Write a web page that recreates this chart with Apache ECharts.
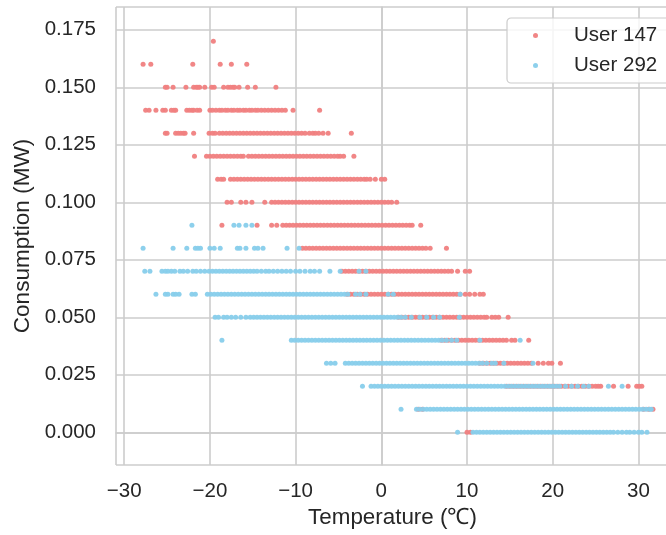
<!DOCTYPE html>
<html><head><meta charset="utf-8">
<script src="https://cdn.jsdelivr.net/npm/echarts@6/dist/echarts.min.js"></script>
<style>html,body{margin:0;padding:0;background:#fff}#c{width:666px;height:535px}</style>
</head><body><div id="c"></div><script>
// consumption levels (MW)
const levels = [0.00,0.01,0.02,0.03,0.04,0.05,0.06,0.07,0.08,0.09,0.10,0.11,0.12,0.13,0.14,0.15,0.16,0.17];
// temperatures (degC) observed at each level, User 147
const user147X = [
 [10.0,10.4],
 [4.3,4.8,30.6,31.2,31.7],
 [14.6,15.0,15.4,15.8,16.2,16.6,17.0,17.4,17.8,18.2,18.6,19.0,19.4,19.8,20.2,20.6,21.0,21.4,21.8,22.2,22.6,23.0,23.4,23.8,24.2,24.6,25.0,25.3,25.6,27.1,28.8,29.8,30.1,30.4],
 [11.5,11.9,12.3,12.7,13.1,13.5,13.9,14.3,14.7,15.1,15.5,15.9,16.3,16.7,17.1,17.5,18.3,18.9,19.5,19.9,20.9],
 [7.0,7.4,7.8,8.2,8.6,9.0,9.4,9.8,10.2,10.6,11.0,11.4,11.8,12.2,12.6,13.0,13.4,13.8,14.2,14.6,15.2,15.6,17.2],
 [2.0,2.4,2.8,3.2,3.6,4.0,4.4,4.8,5.2,5.6,6.0,6.4,6.8,7.2,7.6,8.0,8.4,8.8,9.2,9.6,10.0,10.4,10.8,11.2,11.6,12.0,12.3,12.9,13.3,13.7,14.8],
 [-4.0,-3.6,-3.2,-2.8,-2.4,-2.0,-1.6,-1.2,-0.8,-0.4,0.0,0.4,0.8,1.2,1.6,2.0,2.4,2.8,3.2,3.6,4.0,4.4,4.8,5.2,5.6,6.0,6.4,6.8,7.2,7.6,8.0,8.4,8.8,9.2,9.8,10.3,10.9,11.5,11.9],
 [-4.6,-4.2,-3.8,-3.4,-3.0,-2.6,-2.2,-1.8,-1.4,-1.0,-0.6,-0.2,0.2,0.6,1.0,1.4,1.8,2.2,2.6,3.0,3.4,3.8,4.2,4.6,5.0,5.4,5.8,6.2,6.6,7.0,7.4,7.8,8.2,8.9,9.8,10.3],
 [-9.2,-8.8,-8.4,-8.0,-7.6,-7.2,-6.8,-6.4,-6.0,-5.6,-5.2,-4.8,-4.4,-4.0,-3.6,-3.2,-2.8,-2.4,-2.0,-1.6,-1.2,-0.8,-0.4,0.0,0.4,0.8,1.2,1.6,2.0,2.4,2.8,3.2,3.6,4.0,4.4,4.8,5.2,5.7,7.6],
 [-18.6,-14.5,-12.8,-12.2,-11.5,-11.1,-10.7,-10.3,-9.9,-9.5,-9.1,-8.7,-8.3,-7.9,-7.5,-7.1,-6.7,-6.3,-5.9,-5.5,-5.1,-4.7,-4.3,-3.9,-3.5,-3.1,-2.7,-2.3,-1.9,-1.5,-1.1,-0.7,-0.3,0.1,0.5,0.9,1.3,1.7,2.1,2.5,2.9,3.3,3.6,4.6],
 [-18.0,-17.5,-16.4,-15.8,-15.1,-13.6,-12.8,-12.4,-12.0,-11.6,-11.2,-10.8,-10.4,-10.0,-9.6,-9.2,-8.8,-8.4,-8.0,-7.6,-7.2,-6.8,-6.4,-6.0,-5.6,-5.2,-4.8,-4.4,-4.0,-3.6,-3.2,-2.8,-2.4,-2.0,-1.6,-1.2,-0.8,-0.4,0.0,0.4,0.8,1.2,1.8],
 [-19.1,-18.7,-18.4,-17.6,-17.2,-16.8,-16.4,-16.0,-15.6,-15.2,-14.8,-14.4,-14.0,-13.6,-13.2,-12.8,-12.4,-12.0,-11.6,-11.2,-10.8,-10.4,-10.0,-9.6,-9.2,-8.8,-8.4,-8.0,-7.6,-7.2,-6.8,-6.4,-6.0,-5.6,-5.2,-4.8,-4.4,-4.0,-3.6,-3.2,-2.8,-2.4,-2.0,-1.7,-1.3,-0.7,0.0,0.4],
 [-21.8,-20.4,-20.0,-19.6,-19.2,-18.8,-18.4,-18.0,-17.6,-17.2,-16.8,-16.4,-16.1,-15.5,-15.1,-14.7,-14.3,-13.9,-13.5,-13.1,-12.7,-12.3,-11.9,-11.5,-11.1,-10.7,-10.3,-9.9,-9.5,-9.1,-8.7,-8.3,-7.9,-7.5,-7.1,-6.7,-6.3,-5.9,-5.5,-5.1,-4.8,-4.4,-3.2],
 [-25.2,-25.0,-24.0,-23.7,-23.4,-23.1,-22.9,-21.9,-20.1,-19.7,-19.4,-18.9,-18.5,-18.1,-17.7,-17.3,-16.9,-16.5,-16.1,-15.7,-15.3,-14.9,-14.5,-14.1,-13.7,-13.3,-12.9,-12.5,-12.1,-11.7,-11.3,-10.9,-10.5,-10.1,-9.7,-9.3,-8.9,-8.4,-8.0,-7.7,-7.3,-6.8,-6.2,-3.5],
 [-27.5,-27.1,-26.3,-25.5,-25.2,-24.5,-24.2,-24.0,-22.7,-22.4,-22.1,-21.9,-21.5,-21.2,-20.0,-19.7,-19.3,-18.9,-18.6,-18.2,-17.9,-17.5,-17.2,-16.8,-16.5,-16.1,-15.8,-15.4,-15.1,-14.7,-14.4,-14.0,-13.6,-13.2,-12.8,-12.4,-12.0,-11.6,-11.2,-10.3,-7.2],
 [-25.2,-25.0,-24.3,-22.8,-21.9,-21.6,-21.4,-21.2,-20.6,-19.8,-19.5,-18.4,-17.9,-17.6,-17.3,-17.1,-16.6,-15.6,-14.7,-12.3],
 [-27.8,-26.9,-22.0,-18.8,-17.5,-15.7],
 [-19.6]
];
// temperatures (degC) observed at each level, User 292
const user292X = [
 [8.9,10.7,11.1,11.5,11.9,12.3,12.7,13.1,13.5,13.9,14.3,14.7,15.1,15.5,15.9,16.3,16.7,17.1,17.5,17.9,18.3,18.7,19.1,19.5,19.9,20.3,20.7,21.1,21.5,21.9,22.3,22.7,23.1,23.5,23.9,24.3,24.7,25.1,25.5,25.9,26.3,26.7,27.1,27.6,28.1,28.6,29.0,29.5,30.0,30.4,31.0],
 [2.3,4.1,4.5,4.9,5.3,5.7,6.1,6.5,6.9,7.3,7.7,8.1,8.5,8.9,9.3,9.7,10.1,10.5,10.9,11.3,11.7,12.1,12.5,12.9,13.3,13.7,14.1,14.5,14.9,15.3,15.7,16.1,16.5,16.9,17.3,17.7,18.1,18.5,18.9,19.3,19.7,20.1,20.5,20.9,21.3,21.7,22.1,22.5,22.9,23.3,23.7,24.1,24.5,24.9,25.3,25.7,26.1,26.5,26.9,27.3,27.7,28.1,28.5,28.9,29.3,29.7,30.1,30.5,30.9,31.3,31.5],
 [-2.2,-1.2,-0.8,-0.4,0.0,0.4,0.8,1.2,1.6,2.0,2.4,2.8,3.2,3.6,4.0,4.4,4.8,5.2,5.6,6.0,6.4,6.8,7.2,7.6,8.0,8.4,8.8,9.2,9.6,10.0,10.4,10.8,11.2,11.6,12.0,12.4,12.8,13.2,13.6,14.0,14.4,14.8,15.2,15.6,16.0,16.4,16.8,17.2,17.6,18.0,18.4,18.8,19.2,19.6,20.0,20.4,20.8,21.5,22.2,22.9,23.6,24.2,26.5,28.1],
 [-6.4,-5.9,-5.4,-4.2,-3.8,-3.4,-3.0,-2.6,-2.2,-1.8,-1.4,-1.0,-0.6,-0.2,0.2,0.6,1.0,1.4,1.8,2.2,2.6,3.0,3.4,3.8,4.2,4.6,5.0,5.4,5.8,6.2,6.6,7.0,7.4,7.8,8.2,8.6,9.0,9.4,9.8,10.2,10.6,11.0,11.4,11.8,12.3,12.9,13.3,14.3,17.7],
 [-18.6,-10.5,-10.1,-9.7,-9.3,-8.9,-8.5,-8.1,-7.7,-7.3,-6.9,-6.5,-6.1,-5.7,-5.3,-4.9,-4.5,-4.1,-3.7,-3.3,-2.9,-2.5,-2.1,-1.7,-1.3,-0.9,-0.5,-0.1,0.3,0.7,1.1,1.5,1.9,2.3,2.7,3.1,3.5,3.9,4.3,4.7,5.1,5.5,5.9,6.3,6.7,7.1,7.6,8.2,8.8,11.5,16.2],
 [-19.4,-19.0,-18.4,-18.0,-17.5,-17.0,-16.4,-15.8,-15.3,-14.9,-14.5,-14.1,-13.7,-13.3,-12.9,-12.5,-12.1,-11.7,-11.3,-10.9,-10.5,-10.1,-9.7,-9.3,-8.9,-8.5,-8.1,-7.7,-7.3,-6.9,-6.5,-6.1,-5.7,-5.3,-4.9,-4.5,-4.1,-3.7,-3.3,-2.9,-2.5,-2.1,-1.7,-1.3,-0.9,-0.5,-0.1,0.3,0.7,1.1,1.5,1.9,2.3,2.8,3.5,4.5,5.3,6.1,6.8,9.1],
 [-26.3,-25.2,-24.9,-24.3,-24.0,-23.6,-22.1,-21.7,-20.3,-19.9,-19.5,-19.1,-18.7,-18.3,-17.9,-17.5,-17.1,-16.7,-16.3,-15.9,-15.5,-15.1,-14.7,-14.3,-13.9,-13.5,-13.1,-12.7,-12.3,-11.9,-11.5,-11.1,-10.7,-10.3,-9.9,-9.5,-9.1,-8.7,-8.3,-7.9,-7.5,-7.1,-6.7,-6.3,-5.9,-5.5,-5.1,-4.7,-4.3,-3.9,-3.0,-2.5,-1.8,0.8,1.4,9.2],
 [-27.6,-27.0,-25.6,-25.2,-24.9,-24.5,-24.1,-23.5,-23.1,-22.6,-22.0,-21.6,-21.1,-20.6,-20.1,-19.7,-19.3,-18.9,-18.5,-18.1,-17.7,-17.3,-16.9,-16.5,-16.1,-15.7,-15.3,-14.9,-14.5,-14.0,-13.5,-13.1,-12.6,-12.1,-11.6,-11.1,-10.6,-10.0,-9.5,-8.9,-8.3,-7.8,-7.2,-6.0,-4.8,-2.6,-1.8],
 [-27.8,-24.3,-22.7,-21.7,-21.4,-21.1,-20.0,-19.5,-18.8,-16.8,-16.5,-15.8,-14.8,-14.4,-13.8,-11.0,-9.6],
 [-22.1,-17.2,-16.6,-15.8,-15.1],
 [],[],[],[],[],[],[],[]
];
const xTickLabels = [-30,-20,-10,0,10,20,30];
const yTickLabels = [0,0.025,0.05,0.075,0.1,0.125,0.15,0.175];

function pairs(xs){ const out=[]; xs.forEach((row,i)=>row.forEach(x=>out.push([x,levels[i]]))); return out; }
const FONT = 'Liberation Sans, Arial, sans-serif';
const INK = '#262626';
const GRIDC = '#cccccc';

const chart = echarts.init(document.getElementById('c'), null, {renderer:'canvas'});
chart.setOption({
  animation:false,
  backgroundColor:'#ffffff',
  grid:{left:116, top:7, right:-3, bottom:70, containLabel:false, outerBoundsMode:'none'},
  xAxis:{
    type:'value', min:-30.96, max:33.57, minInterval:10, maxInterval:10,
    axisLine:{show:true, lineStyle:{color:GRIDC, width:1.6}},
    axisTick:{show:false},
    splitLine:{show:true, lineStyle:{color:GRIDC, width:1.6}},
    axisLabel:{show:true, margin:16, color:INK, fontSize:20.5, fontFamily:FONT, showMinLabel:false, showMaxLabel:false,
      formatter:v=>{ const t=xTickLabels.find(a=>Math.abs(a-v)<1e-6); return t===undefined?'':(t<0?'\u2212'+Math.abs(t):String(t)); }},
    name:'Temperature (\u2103)', nameLocation:'middle', nameGap:42,
    nameTextStyle:{color:INK, fontSize:22.4, fontFamily:FONT}
  },
  yAxis:{
    type:'value', min:-0.0142, max:0.1849, minInterval:0.025, maxInterval:0.025,
    axisLine:{show:true, lineStyle:{color:GRIDC, width:1.6}},
    axisTick:{show:false},
    splitLine:{show:true, lineStyle:{color:GRIDC, width:1.6}},
    axisLabel:{show:true, margin:20, color:INK, fontSize:20.5, fontFamily:FONT, showMinLabel:false, showMaxLabel:false,
      formatter:v=>{ const t=yTickLabels.find(a=>Math.abs(a-v)<1e-7); return t===undefined?'':t.toFixed(3); }},
    name:'Consumption (MW)', nameLocation:'middle', nameGap:78, nameRotate:90,
    nameTextStyle:{color:INK, fontSize:22.6, fontFamily:FONT}
  },
  legend:{
    data:['User 147','User 292'], orient:'vertical', left:507, top:18,
    padding:[7,20,7,26], itemGap:9, itemWidth:5, itemHeight:5, icon:'circle',
    backgroundColor:'rgba(255,255,255,0.8)', borderColor:'#cccccc', borderWidth:1.2, borderRadius:4,
    formatter:n=>'{t|'+n+'}',
    textStyle:{color:INK, fontSize:20.5, fontFamily:FONT,
      rich:{t:{color:INK, fontSize:20.5, fontFamily:FONT, lineHeight:21, padding:[0,0,0,31]}}}
  },
  series:[
    {name:'User 147', type:'scatter', symbol:'circle', symbolSize:5, data:pairs(user147X),
     itemStyle:{color:'#f08080', opacity:0.95}},
    {name:'User 292', type:'scatter', symbol:'circle', symbolSize:5, data:pairs(user292X),
     itemStyle:{color:'#87ceeb', opacity:0.95}}
  ]
});
</script></body></html>
